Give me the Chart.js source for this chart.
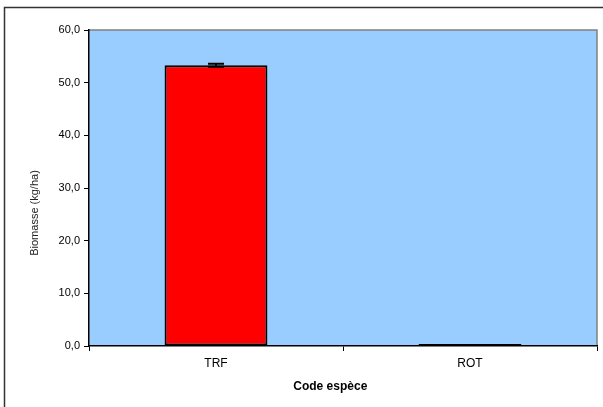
<!DOCTYPE html>
<html>
<head>
<meta charset="utf-8">
<script src="https://cdn.jsdelivr.net/npm/chart.js@4.4.1/dist/chart.umd.min.js"></script>
<style>
  html, body { margin: 0; padding: 0; background: #fff; }
  #wrap { position: relative; width: 603px; height: 407px; }
</style>
</head>
<body>
<div id="wrap"><canvas id="biomasseChart" width="603" height="407"></canvas></div>
<script>
// Données
const especes = ["TRF", "ROT"];
const biomasse = [53.3, 0.4];
const erreurs = [0.3, 0];
const yTicks = [0, 10, 20, 30, 40, 50, 60];
const titreX = "Code espèce";
const titreY = "Biomasse (kg/ha)";

const fontFamily = "'Liberation Sans', Arial, sans-serif";

// Cadre extérieur + fond de la zone de tracé
const plotBackground = {
    id: "plotBackground",
    beforeDraw(chart) {
        const c = chart.ctx;
        const a = chart.chartArea;
        c.save();
        c.fillStyle = "#fff";
        c.fillRect(0, 0, chart.width, chart.height);
        c.strokeStyle = "#333";
        c.lineWidth = 1.5;
        c.beginPath();
        c.moveTo(4.5, chart.height + 5);
        c.lineTo(4.5, 7.5);
        c.lineTo(chart.width + 5, 7.5);
        c.stroke();
        c.fillStyle = "#99CCFF";
        c.fillRect(a.left, a.top, a.right - a.left, a.bottom - a.top);
        c.strokeStyle = "#808080";
        c.lineWidth = 1.5;
        c.beginPath();
        c.moveTo(a.left, a.top);
        c.lineTo(a.right, a.top);
        c.lineTo(a.right, a.bottom);
        c.stroke();
        c.restore();
    },
    afterDraw(chart) {
        // titres des axes, placés comme dans l'original
        const c = chart.ctx;
        const a = chart.chartArea;
        c.save();
        c.textAlign = "center";
        c.textBaseline = "middle";
        c.fillStyle = "#000";
        c.font = "bold 12px " + fontFamily;
        c.fillText(titreX, a.left + (a.right - a.left) * 0.475, 387);
        c.translate(35, 213);
        c.rotate(-Math.PI / 2);
        c.fillStyle = "#222";
        c.font = "11px " + fontFamily;
        c.fillText(titreY, 0, 0);
        c.restore();
    },
};

// Barres d'erreur
const errorBars = {
    id: "errorBars",
    afterDatasetsDraw(chart) {
        const c = chart.ctx;
        const meta = chart.getDatasetMeta(0);
        const y = chart.scales.y;
        c.save();
        c.strokeStyle = "#000";
        c.lineWidth = 2;
        meta.data.forEach((bar, i) => {
            if (!erreurs[i]) return;
            const top = y.getPixelForValue(biomasse[i] + erreurs[i]);
            const bot = y.getPixelForValue(biomasse[i] - erreurs[i]);
            c.beginPath();
            c.moveTo(bar.x, top);
            c.lineTo(bar.x, bot);
            c.moveTo(bar.x - 8, top);
            c.lineTo(bar.x + 8, top);
            c.moveTo(bar.x - 8, bot);
            c.lineTo(bar.x + 8, bot);
            c.stroke();
        });
        c.restore();
    },
};

const ctx = document.getElementById("biomasseChart").getContext("2d");
new Chart(ctx, {
    type: "bar",
    data: {
        labels: especes,
        datasets: [
            {
                label: "Biomasse",
                data: biomasse,
                backgroundColor: "#FF0000",
                borderColor: "#000",
                borderWidth: 2,
                borderSkipped: false,
                categoryPercentage: 0.81,
                barPercentage: 0.5,
            },
        ],
    },
    options: {
        responsive: false,
        animation: false,
        layout: { padding: { top: 30, right: 6, left: 24, bottom: 0 } },
        plugins: {
            legend: { display: false },
            tooltip: { enabled: false },
        },
        scales: {
            x: {
                offset: true,
                grid: {
                    offset: true,
                    drawOnChartArea: false,
                    color: "#000",
                    tickLength: 5,
                },
                border: { color: "#000", width: 1.5 },
                ticks: {
                    color: "#000",
                    font: { family: fontFamily, size: 12 },
                    padding: 5,
                },
                afterFit(scale) { scale.height = 61; },
            },
            y: {
                min: 0,
                max: 60,
                afterBuildTicks(scale) { scale.ticks = yTicks.map(v => ({ value: v })); },
                grid: {
                    drawOnChartArea: false,
                    color: "#000",
                    tickLength: 5,
                },
                border: { color: "#000", width: 1.5 },
                ticks: {
                    color: "#000",
                    font: { family: fontFamily, size: 11 },
                    padding: 4,
                    callback: v => v.toFixed(1).replace(".", ","),
                },
                afterFit(scale) { scale.width = 65; },
            },
        },
    },
    plugins: [plotBackground, errorBars],
});
</script>
</body>
</html>
